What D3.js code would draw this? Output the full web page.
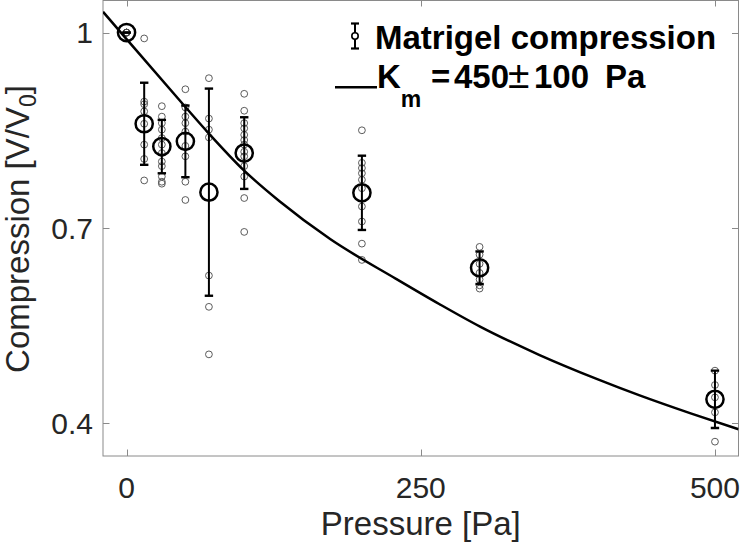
<!DOCTYPE html>
<html>
<head>
<meta charset="utf-8">
<script src="https://cdn.jsdelivr.net/npm/d3@7"></script>
<style>
  html, body { margin: 0; padding: 0; background: #fff; }
  svg { display: block; font-family: "Liberation Sans", Arial, Helvetica, sans-serif; }
</style>
</head>
<body>
<svg id="chart" width="740" height="546"></svg>
<script>
// ---------------- data ----------------
const pressures = [0, 15, 30, 50, 70, 100, 200, 300, 500];
const meanValues = [1.0, 0.860, 0.825, 0.833, 0.755, 0.815, 0.754, 0.639, 0.437];
const sdValues = [0.0, 0.063, 0.041, 0.055, 0.159, 0.055, 0.057, 0.025, 0.044];
const samples = [
  [1, 1, 1, 1, 1],
  [0.991, 0.894, 0.890, 0.879, 0.860, 0.828, 0.806, 0.773],
  [0.887, 0.871, 0.861, 0.851, 0.838, 0.828, 0.815, 0.802, 0.795, 0.779, 0.771, 0.768],
  [0.913, 0.885, 0.871, 0.861, 0.848, 0.826, 0.810, 0.771, 0.743],
  [0.930, 0.868, 0.851, 0.839, 0.627, 0.579, 0.506],
  [0.906, 0.880, 0.861, 0.853, 0.843, 0.835, 0.828, 0.817, 0.810, 0.795, 0.779, 0.746, 0.694],
  [0.850, 0.800, 0.792, 0.784, 0.774, 0.761, 0.733, 0.710, 0.676, 0.651],
  [0.671, 0.659, 0.645, 0.631, 0.621, 0.612, 0.607],
  [0.481, 0.459, 0.440, 0.417, 0.372]
];
const fitPressure = [-20, 0, 48, 70, 100, 130, 173, 229, 266, 300, 351, 400, 436, 480, 520];
const fitValues = [1.032, 0.990, 0.890, 0.845, 0.788, 0.741, 0.683, 0.622, 0.583, 0.549, 0.505, 0.468, 0.443, 0.415, 0.391];
const xTicks = [0, 250, 500];
const yTicks = [0.4, 0.7, 1];
const yTickLabels = ["0.4", "0.7", "1"];

// ---------------- layout ----------------
const svg = d3.select("#chart");
const L = 103, R = 738.5, T = 0, B = 456;
const x = d3.scaleLinear().domain([-20, 520]).range([L, R]);
const y = d3.scaleLinear().domain([0.35, 1.05]).range([B, T]);
const axisCol = "#8a8a8a", textCol = "#262626";

svg.append("defs").append("clipPath").attr("id", "clip")
  .append("rect").attr("x", L).attr("y", T).attr("width", R - L).attr("height", B - T);

// box
svg.append("rect").attr("x", L).attr("y", T + 0.5).attr("width", R - L).attr("height", B - T - 0.5)
  .attr("fill", "none").attr("stroke", axisCol).attr("stroke-width", 1);

// ticks (inward, all four sides)
const tl = 6.5;
xTicks.forEach(v => {
  const px = Math.round(x(v)) + 0.5;
  svg.append("line").attr("x1", px).attr("x2", px).attr("y1", B).attr("y2", B - tl).attr("stroke", axisCol);
  svg.append("line").attr("x1", px).attr("x2", px).attr("y1", T).attr("y2", T + tl).attr("stroke", axisCol);
  svg.append("text").attr("x", x(v)).attr("y", 498).attr("text-anchor", "middle")
    .attr("font-size", 30).attr("fill", textCol).text(v);
});
yTicks.forEach((v, i) => {
  const py = Math.round(y(v)) + 0.5;
  svg.append("line").attr("x1", L).attr("x2", L + tl).attr("y1", py).attr("y2", py).attr("stroke", axisCol);
  svg.append("line").attr("x1", R).attr("x2", R - tl).attr("y1", py).attr("y2", py).attr("stroke", axisCol);
  svg.append("text").attr("x", 93).attr("y", y(v)).attr("dy", "0.35em").attr("text-anchor", "end")
    .attr("font-size", 30).attr("fill", textCol).text(yTickLabels[i]);
});

// axis labels
svg.append("text").attr("x", (L + R) / 2).attr("y", 535).attr("text-anchor", "middle")
  .attr("font-size", 33).attr("fill", textCol).text("Pressure [Pa]");
const yl = svg.append("text").attr("transform", `translate(29,${(T + B) / 2 + 1}) rotate(-90)`)
  .attr("text-anchor", "middle").attr("font-size", 33).attr("fill", textCol);
yl.append("tspan").text("Compression [V/V");
yl.append("tspan").attr("font-size", 23).attr("dy", 7).text("0");
yl.append("tspan").attr("dy", -7).text("]");

// ---------------- marks ----------------
const plot = svg.append("g").attr("clip-path", "url(#clip)");

// individual samples
pressures.forEach((p, i) => {
  plot.selectAll(null).data(samples[i]).enter().append("circle")
    .attr("cx", x(p)).attr("cy", d => y(d)).attr("r", 3.4)
    .attr("fill", "none").attr("stroke", "#4a4a4a").attr("stroke-width", 0.9);
});

// error bars + means
const capW = 4.2;
pressures.forEach((p, i) => {
  const m = meanValues[i], s = sdValues[i];
  const g = plot.append("g").attr("stroke", "#000");
  g.append("line").attr("x1", x(p)).attr("x2", x(p)).attr("y1", y(m + s)).attr("y2", y(m - s)).attr("stroke-width", 2);
  [m + s, m - s].forEach(v => {
    g.append("line").attr("x1", x(p) - capW).attr("x2", x(p) + capW).attr("y1", y(v)).attr("y2", y(v)).attr("stroke-width", 2.4);
  });
  g.append("circle").attr("cx", x(p)).attr("cy", y(m)).attr("r", 8.6)
    .attr("fill", "none").attr("stroke-width", 2.5);
});

// fit curve
const line = d3.line().x(d => x(d[0])).y(d => y(d[1])).curve(d3.curveMonotoneX);
plot.append("path").datum(fitPressure.map((p, i) => [p, fitValues[i]]))
  .attr("d", line).attr("fill", "none").attr("stroke", "#000").attr("stroke-width", 2.5);

// ---------------- legend ----------------
const lg = svg.append("g");
lg.append("line").attr("x1", 355).attr("x2", 355).attr("y1", 23.5).attr("y2", 48.5).attr("stroke", "#000").attr("stroke-width", 2);
[23.5, 48.5].forEach(v => lg.append("line").attr("x1", 351).attr("x2", 359).attr("y1", v).attr("y2", v).attr("stroke", "#000").attr("stroke-width", 2.2));
lg.append("circle").attr("cx", 355).attr("cy", 36).attr("r", 3.2).attr("fill", "#fff").attr("stroke", "#000").attr("stroke-width", 1.6);
lg.append("text").attr("x", 375).attr("y", 49).attr("font-size", 33).attr("font-weight", "bold").attr("fill", "#000")
  .text("Matrigel compression");

lg.append("line").attr("x1", 335).attr("x2", 377).attr("y1", 87.3).attr("y2", 87.3).attr("stroke", "#000").attr("stroke-width", 2.5);
const t2 = lg.append("text").attr("y", 88.3).attr("font-size", 33).attr("font-weight", "bold").attr("fill", "#000");
t2.append("tspan").attr("x", 377).text("K");
t2.append("tspan").attr("font-size", 23).attr("dy", 18.4).text("m");
t2.append("tspan").attr("x", 431).attr("dy", -18.4).text("=");
t2.append("tspan").attr("x", 454).text("450");
t2.append("tspan").attr("x", 508).attr("font-weight", "normal").attr("font-size", 39).text("±");
t2.append("tspan").attr("x", 534).text("100");
t2.append("tspan").attr("x", 605).text("Pa");
</script>
</body>
</html>
